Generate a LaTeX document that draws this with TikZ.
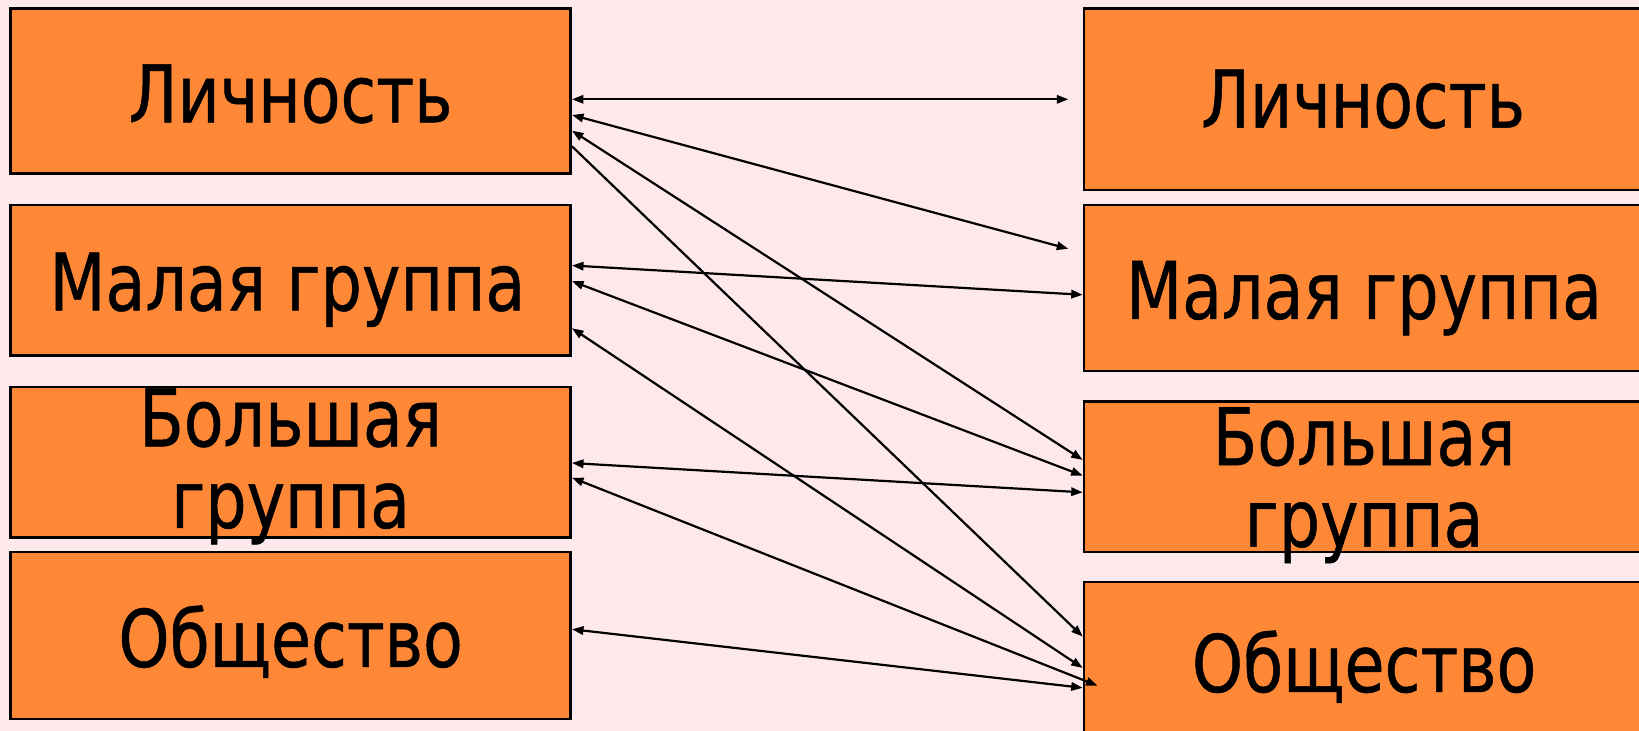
\documentclass[tikz,border=0pt]{standalone}
\usepackage{fontspec}
\setmainfont{DejaVu Sans Condensed}[FakeStretch=0.91,FakeBold=0.6]
\usetikzlibrary{arrows.meta}
\definecolor{bgpink}{HTML}{FDE8EB}
\definecolor{boxorange}{HTML}{FF8837}
\tikzset{
  box/.style={draw=black, line width=2.4pt, fill=boxorange, inner sep=0pt, minimum width=536pt},
  lbl/.style={font=\fontsize{76}{78}\selectfont, inner sep=0pt, anchor=base, align=center},
  conn/.style={line width=2.1pt, draw=black},
  both/.style={conn, {Triangle[length=11pt,width=8pt]}-{Triangle[length=11pt,width=8pt]}},
  one/.style={conn, -{Triangle[length=11pt,width=8pt]}}
}
\begin{document}
\begin{tikzpicture}[x=1pt,y=1pt]
\path[fill=bgpink] (0,0) rectangle (1568,-699);
\useasboundingbox (0,0) rectangle (1568,-699);
% left boxes
\node[box, minimum height=158pt] (L1) at (278,-87) {};
\node[box, minimum height=144pt] (L2) at (278,-268) {};
\node[box, minimum height=144pt] (L3) at (278,-442) {};
\node[box, minimum height=160pt] (L4) at (278,-608) {};
% right boxes
\node[box, minimum height=174pt] (R1) at (1305,-95) {};
\node[box, minimum height=159pt] (R2) at (1305,-275.5) {};
\node[box, minimum height=144pt] (R3) at (1305,-456) {};
\node[box, minimum height=163pt] (R4) at (1305,-638.5) {};
% texts
\node[lbl] (tL1) at (278,-117) {Личность};
\node[lbl] (tL2) at (275,-297) {Малая группа};
\node[lbl] (tL3) at (278,-505) {Большая\\группа};
\node[lbl] (tL4) at (278,-638) {Общество};
\node[lbl] (tR1) at (1304,-122) {Личность};
\node[lbl] (tR2) at (1305,-305) {Малая группа};
\node[lbl] (tR3) at (1305,-523) {Большая\\группа};
\node[lbl] (tR4) at (1305,-662) {Общество};
% free ends
\coordinate (c1) at (1022,-95);
\coordinate (c2) at (1022,-238);
\coordinate (c9) at (1050,-656);
% connectors
\draw[both] ([yshift=-8pt]L1.east) -- (c1);
\draw[both] ([yshift=-23pt]L1.east) -- (c2);
\draw[both] ([yshift=-38pt]L1.east) -- ([yshift=16pt]R3.west);
\draw[one]  ([yshift=-53pt]L1.east) -- ([yshift=29.5pt]R4.west);
\draw[both] ([yshift=14pt]L2.east) -- ([yshift=-6.5pt]R2.west);
\draw[both] ([yshift=-1pt]L2.east) -- ([yshift=1pt]R3.west);
\draw[both] ([yshift=-46pt]L2.east) -- ([yshift=-0.5pt]R4.west);
\draw[both] ([yshift=-1pt]L3.east) -- ([yshift=-15pt]R3.west);
\draw[both] ([yshift=-15pt]L3.east) -- (c9);
\draw[both] ([yshift=6pt]L4.east) -- ([yshift=-19.5pt]R4.west);
\end{tikzpicture}
\end{document}
